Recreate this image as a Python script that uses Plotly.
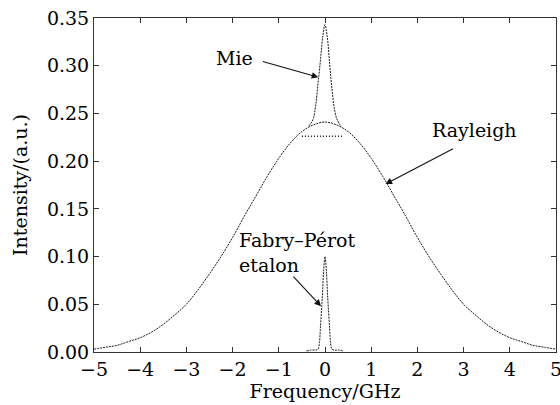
import plotly.graph_objects as go

# ---- data ----
rayleigh_freq = [-5.0, -4.75, -4.5, -4.25, -4.0, -3.75, -3.5, -3.25, -3.0, -2.75, -2.5,
                 -2.25, -2.0, -1.75, -1.5, -1.25, -1.0, -0.75, -0.5, -0.25, 0.0,
                 0.25, 0.5, 0.75, 1.0, 1.25, 1.5, 1.75, 2.0, 2.25, 2.5,
                 2.75, 3.0, 3.25, 3.5, 3.75, 4.0, 4.25, 4.5, 4.75, 5.0]
rayleigh_int = [0.003, 0.005, 0.007, 0.011, 0.015, 0.021, 0.029, 0.039, 0.050, 0.065, 0.082,
                0.100, 0.120, 0.142, 0.163, 0.184, 0.203, 0.219, 0.231, 0.238, 0.241,
                0.238, 0.231, 0.219, 0.203, 0.184, 0.163, 0.142, 0.120, 0.100, 0.082,
                0.065, 0.050, 0.039, 0.029, 0.021, 0.015, 0.011, 0.007, 0.005, 0.003]

mie_freq = [-0.35, -0.3, -0.25, -0.2, -0.15, -0.1, -0.05, 0.0, 0.05, 0.1, 0.15, 0.2, 0.25, 0.3, 0.35]
mie_int = [0.237, 0.240, 0.245, 0.259, 0.282, 0.305, 0.330, 0.343, 0.330, 0.302, 0.276, 0.256, 0.245, 0.240, 0.236]

plateau_freq = [-0.5, 0.4]
plateau_int = [0.226, 0.226]

fp_freq = [-0.4, -0.3, -0.2, -0.15, -0.12, -0.1, -0.07, -0.05, -0.03, 0.0,
           0.03, 0.05, 0.07, 0.1, 0.12, 0.15, 0.2, 0.3, 0.4]
fp_int = [0.001, 0.002, 0.002, 0.003, 0.010, 0.025, 0.048, 0.065, 0.085, 0.100,
          0.085, 0.065, 0.048, 0.025, 0.010, 0.003, 0.002, 0.002, 0.001]

x_ticks = [-5, -4, -3, -2, -1, 0, 1, 2, 3, 4, 5]
y_ticks = [0.0, 0.05, 0.10, 0.15, 0.20, 0.25, 0.30, 0.35]

FONT = "DejaVu Serif"
LC = "#1a1a1a"
TC = "#000"

fig = go.Figure()
fig.add_trace(go.Scatter(x=rayleigh_freq, y=rayleigh_int, mode="lines", line_shape="spline",
                         line=dict(color=LC, width=1, dash="2px,1px"), showlegend=False))
fig.add_trace(go.Scatter(x=mie_freq, y=mie_int, mode="lines", line_shape="spline",
                         line=dict(color=LC, width=1, dash="2px,1px"), showlegend=False))
fig.add_trace(go.Scatter(x=plateau_freq, y=plateau_int, mode="lines",
                         line=dict(color=LC, width=1.5, dash="1px,2px"), showlegend=False))
fig.add_trace(go.Scatter(x=fp_freq, y=fp_int, mode="lines", line_shape="spline",
                         line=dict(color=LC, width=1, dash="2px,1px"), showlegend=False))

axis_common = dict(showline=True, linecolor="#333", linewidth=1, mirror="ticks",
                   ticks="inside", ticklen=5, tickcolor="#333", showgrid=False, zeroline=False,
                   ticklabeloverflow="allow", automargin=False,
                   tickfont=dict(family=FONT, size=19, color=TC))

fig.update_xaxes(range=[-5, 5], tickvals=x_ticks,
                 title=dict(text="Frequency/GHz", font=dict(family=FONT, size=19, color=TC), standoff=5),
                 **axis_common)
fig.update_yaxes(range=[0, 0.35], tickvals=y_ticks, tickformat=".2f",
                 title=dict(text="Intensity/(a.u.)", font=dict(family=FONT, size=19, color=TC), standoff=14),
                 **axis_common)

ann_font = dict(family=FONT, size=19, color=TC)
annotations = [
    # labels
    dict(x=234, y=58, text="Mie"),
    dict(x=474, y=130, text="Rayleigh"),
    dict(x=237, y=240, text="Fabry–Pérot", xanchor="left"),
    dict(x=237, y=265, text="etalon", xanchor="left"),
]
layout_ann = []
for a in annotations:
    d = dict(xref="paper", yref="paper", showarrow=False, font=ann_font,
             xanchor=a.get("xanchor", "center"), yanchor="middle", text=a["text"])
    # convert pixel positions to paper coords of the plot area (94..556, 18..352)
    d["x"] = (a["x"] - 94) / (556 - 94)
    d["y"] = (352 - a["y"]) / (352 - 18)
    layout_ann.append(d)

# arrows (head in data coords, tail as pixel offset)
arrows = [
    dict(x=-0.145, y=0.288, ax=-57, ay=-16),
    dict(x=1.31, y=0.176, ax=69, ay=-36),
    dict(x=-0.087, y=0.048, ax=-29, ay=-31),
]
for a in arrows:
    layout_ann.append(dict(x=a["x"], y=a["y"], xref="x", yref="y", ax=a["ax"], ay=a["ay"],
                           text="", showarrow=True, arrowhead=2, arrowsize=1.2,
                           arrowwidth=1.1, arrowcolor="#111"))

fig.update_layout(width=560, height=405, margin=dict(l=94, r=4, t=18, b=53),
                  paper_bgcolor="white", plot_bgcolor="white",
                  annotations=layout_ann, font=dict(family=FONT))

fig.write_html("out.html")
